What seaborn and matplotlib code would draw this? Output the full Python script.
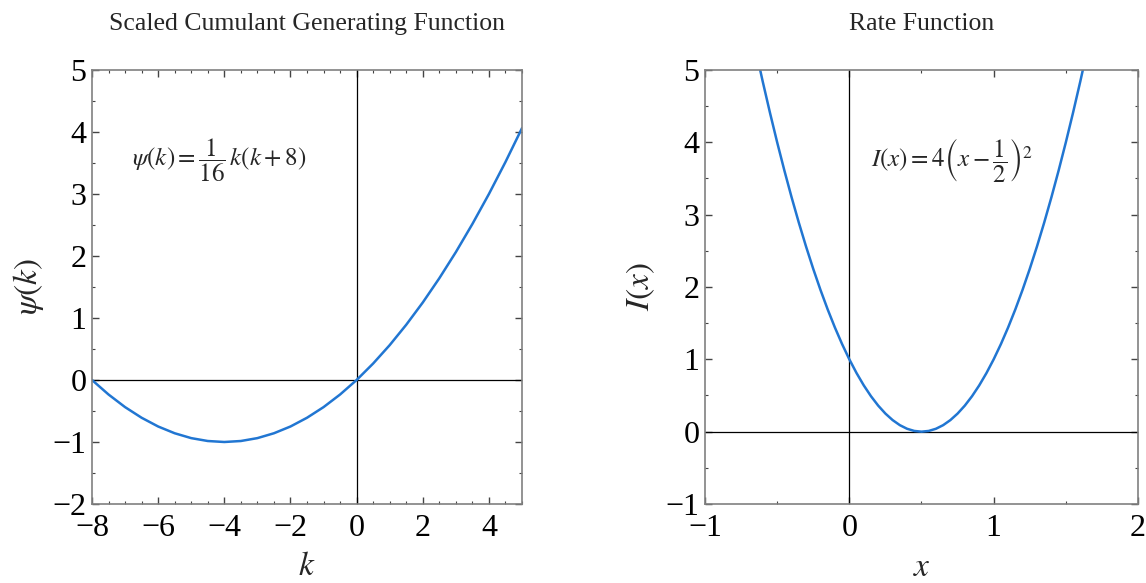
import matplotlib
matplotlib.use("Agg")
import matplotlib.pyplot as plt
import matplotlib.transforms as mtransforms
import seaborn as sns
import numpy as np
from matplotlib.ticker import MultipleLocator

# ---- data ----
k_vals = [-8.0, -7.5, -7.0, -6.5, -6.0, -5.5, -5.0, -4.5, -4.0, -3.5, -3.0, -2.5, -2.0,
          -1.5, -1.0, -0.5, 0.0, 0.5, 1.0, 1.5, 2.0, 2.5, 3.0, 3.5, 4.0, 4.5, 5.0]
psi_vals = [0.0, -0.234, -0.4375, -0.609, -0.75, -0.859, -0.9375, -0.984, -1.0, -0.984,
            -0.9375, -0.859, -0.75, -0.609, -0.4375, -0.234, 0.0, 0.266, 0.5625, 0.891,
            1.25, 1.641, 2.0625, 2.516, 3.0, 3.516, 4.0625]

x_vals = [-0.7, -0.65, -0.6, -0.55, -0.5, -0.45, -0.4, -0.35, -0.3, -0.25, -0.2, -0.15, -0.1,
          -0.05, 0.0, 0.05, 0.1, 0.15, 0.2, 0.25, 0.3, 0.35, 0.4, 0.45, 0.5, 0.55, 0.6,
          0.65, 0.7, 0.75, 0.8, 0.85, 0.9, 0.95, 1.0, 1.05, 1.1, 1.15, 1.2, 1.25, 1.3,
          1.35, 1.4, 1.45, 1.5, 1.55, 1.6, 1.65, 1.7]
rate_vals = [5.76, 5.29, 4.84, 4.41, 4.0, 3.61, 3.24, 2.89, 2.56, 2.25, 1.96, 1.69, 1.44,
             1.21, 1.0, 0.81, 0.64, 0.49, 0.36, 0.25, 0.16, 0.09, 0.04, 0.01, 0.0, 0.01,
             0.04, 0.09, 0.16, 0.25, 0.36, 0.49, 0.64, 0.81, 1.0, 1.21, 1.44, 1.69, 1.96,
             2.25, 2.56, 2.89, 3.24, 3.61, 4.0, 4.41, 4.84, 5.29, 5.76]

titles = ["Scaled Cumulant Generating Function", "Rate Function"]
formula_left = r"$\psi(k) = \dfrac{1}{16}\,k(k+8)$"
formula_right = r"$I(x) = 4\left(x - \dfrac{1}{2}\right)^{2}$"

sns.set_theme(style="white")
plt.rcParams['font.family'] = ['Liberation Serif', 'DejaVu Serif']
plt.rcParams['mathtext.fontset'] = 'stix'

line_color = "#2176D2"
frame_color = "#808080"

fig = plt.figure(figsize=(11.46, 5.83), dpi=100)
W, H = 1146, 583
axL = fig.add_axes([92 / W, 1 - 504 / H, 430 / W, 434 / H])
axR = fig.add_axes([705 / W, 1 - 504 / H, 433 / W, 434 / H])

sns.lineplot(x=k_vals, y=psi_vals, ax=axL, color=line_color, linewidth=1.8, sort=False)
sns.lineplot(x=x_vals, y=rate_vals, ax=axR, color=line_color, linewidth=1.8, sort=False)

axL.set_xlim(-8, 5)
axL.set_ylim(-2, 5)
axR.set_xlim(-1, 2)
axR.set_ylim(-1, 5)

for ax in (axL, axR):
    ax.axhline(0, color="black", linewidth=0.9, zorder=1)
    ax.axvline(0, color="black", linewidth=0.9, zorder=1)
    for sp in ax.spines.values():
        sp.set_color(frame_color)
        sp.set_linewidth(1.2)
        sp.set_visible(True)
    ax.tick_params(which="both", direction="in", top=True, right=True,
                   bottom=True, left=True, color="#444444", labelsize=23,
                   labelcolor="black")
    ax.tick_params(which="major", length=5, width=1)
    ax.tick_params(which="minor", length=2.5, width=0.8)
    ax.yaxis.set_major_locator(MultipleLocator(1))
    ax.yaxis.set_minor_locator(MultipleLocator(0.5))
    ax.grid(False)

axL.xaxis.set_major_locator(MultipleLocator(2))
axL.xaxis.set_minor_locator(MultipleLocator(0.5))
axR.xaxis.set_major_locator(MultipleLocator(1))
axR.xaxis.set_minor_locator(MultipleLocator(0.5))

def fmt(v):
    s = f"{v:g}"
    return s.replace("-", "\u2212")

for ax in (axL, axR):
    ax.set_xticklabels([fmt(t) for t in ax.get_xticks()])
    ax.set_yticklabels([fmt(t) for t in ax.get_yticks()])
    ax.tick_params(axis="x", pad=7)
    ax.tick_params(axis="y", pad=4)
    # lift the lowest y label a little so it clears the first x label
    lab = ax.get_yticklabels()[0]
    lab.set_transform(lab.get_transform() +
                      mtransforms.ScaledTranslation(0, 7 / 72, fig.dpi_scale_trans))

axL.set_title(titles[0], fontsize=18.5, pad=29)
axR.set_title(titles[1], fontsize=18.5, pad=29)

axL.set_xlabel(r"$k$", fontsize=24, labelpad=6)
axL.set_ylabel(r"$\psi(k)$", fontsize=24, labelpad=5)
axR.set_xlabel(r"$x$", fontsize=24, labelpad=7)
axR.set_ylabel(r"$I(x)$", fontsize=24, labelpad=6)

axL.text(-4.15, 3.55, formula_left, fontsize=18, ha="center", va="center")
axR.text(0.71, 3.75, formula_right, fontsize=18, ha="center", va="center")

fig.savefig("out.png", dpi=100)
